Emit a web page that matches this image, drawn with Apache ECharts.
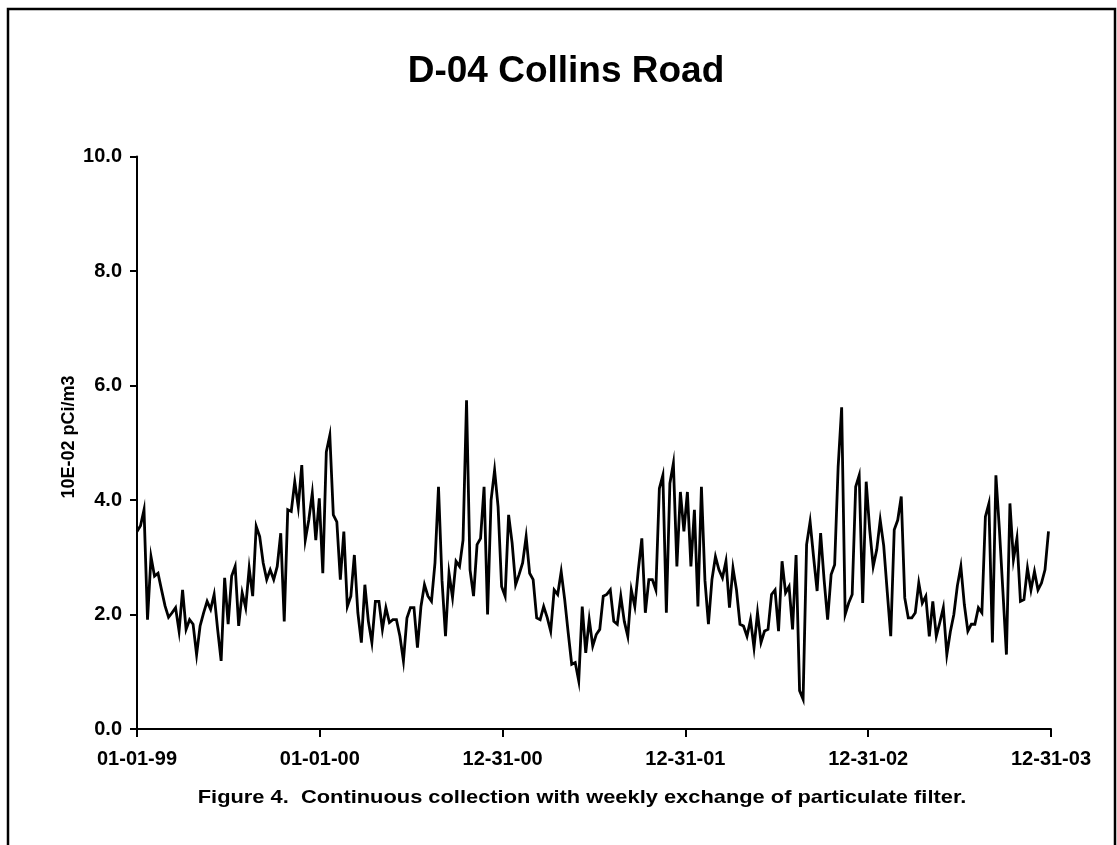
<!DOCTYPE html>
<html>
<head>
<meta charset="utf-8">
<title>D-04 Collins Road</title>
<script src="https://cdn.jsdelivr.net/npm/echarts@6/dist/echarts.min.js"></script>
<style>
  html, body { margin: 0; padding: 0; background: #ffffff; }
  #chart { width: 1117px; height: 845px; }
</style>
</head>
<body>
<div id="chart"></div>
<script>
// Weekly filter results, 10E-02 pCi/m3, one value per weekly exchange starting 01-01-99
const weeklyValues = [
  3.45, 3.55, 3.83, 1.91, 3.01, 2.67, 2.72, 2.43, 2.15, 1.95,
  2.03, 2.12, 1.71, 2.43, 1.74, 1.91, 1.83, 1.30, 1.80, 2.03,
  2.23, 2.09, 2.35, 1.74, 1.19, 2.64, 1.83, 2.67, 2.84, 1.80,
  2.38, 2.12, 2.81, 2.32, 3.54, 3.36, 2.90, 2.61, 2.78, 2.61,
  2.84, 3.42, 1.88, 3.83, 3.80, 4.32, 3.88, 4.61, 3.30, 3.65,
  4.12, 3.30, 4.03, 2.72, 4.84, 5.13, 3.74, 3.62, 2.61, 3.45,
  2.14, 2.32, 3.04, 2.03, 1.51, 2.52, 1.88, 1.51, 2.23, 2.23,
  1.74, 2.12, 1.86, 1.91, 1.91, 1.62, 1.19, 1.94, 2.12, 2.12,
  1.42, 2.14, 2.52, 2.32, 2.23, 2.90, 4.23, 2.60, 1.62, 2.72,
  2.30, 2.93, 2.84, 3.30, 5.74, 2.78, 2.32, 3.22, 3.33, 4.23,
  2.00, 4.00, 4.52, 3.88, 2.49, 2.32, 3.74, 3.25, 2.52, 2.70,
  2.90, 3.36, 2.72, 2.61, 1.94, 1.91, 2.14, 1.95, 1.71, 2.43,
  2.35, 2.75, 2.26, 1.68, 1.13, 1.16, 0.84, 2.14, 1.33, 1.91,
  1.45, 1.65, 1.74, 2.32, 2.35, 2.43, 1.88, 1.83, 2.32, 1.88,
  1.62, 2.43, 2.14, 2.78, 3.33, 2.03, 2.61, 2.61, 2.43, 4.20,
  4.43, 2.03, 4.29, 4.64, 2.84, 4.14, 3.45, 4.14, 2.84, 3.83,
  2.14, 4.23, 2.60, 1.83, 2.61, 3.01, 2.78, 2.64, 2.93, 2.12,
  2.81, 2.43, 1.83, 1.80, 1.62, 1.91, 1.42, 2.03, 1.51, 1.71,
  1.74, 2.35, 2.43, 1.71, 2.93, 2.38, 2.49, 1.74, 3.04, 0.67,
  0.52, 3.22, 3.62, 3.00, 2.41, 3.42, 2.60, 1.91, 2.70, 2.87,
  4.58, 5.62, 2.00, 2.20, 2.35, 4.23, 4.43, 2.20, 4.32, 3.48,
  2.84, 3.13, 3.65, 3.20, 2.40, 1.62, 3.48, 3.65, 4.06, 2.29,
  1.94, 1.94, 2.03, 2.55, 2.20, 2.32, 1.62, 2.23, 1.62, 1.86,
  2.12, 1.30, 1.70, 2.00, 2.50, 2.84, 2.17, 1.71, 1.83, 1.83,
  2.12, 2.03, 3.71, 3.94, 1.51, 4.43, 3.48, 2.40, 1.30, 3.94,
  2.96, 3.33, 2.23, 2.26, 2.81, 2.43, 2.75, 2.43, 2.55, 2.78,
  3.45
];

// Date axis labels, one per 365-day step
const dateTickLabels = ['01-01-99', '01-01-00', '12-31-00', '12-31-01', '12-31-02', '12-31-03'];

// Y axis range and step
const yTicks = [0, 2, 4, 6, 8, 10];

const DAYS_PER_SAMPLE = 7;
const DAYS_PER_TICK = 365;

const titleText = 'D-04 Collins Road';
const yAxisTitle = '10E-02 pCi/m3';
const captionText = 'Figure 4.  Continuous collection with weekly exchange of particulate filter.';

const seriesData = weeklyValues.map((v, i) => [i * DAYS_PER_SAMPLE, v]);

const FONT = '"Liberation Sans", Arial, Helvetica, sans-serif';
const INK = '#000000';

const chart = echarts.init(document.getElementById('chart'), null, { renderer: 'canvas' });

chart.setOption({
  backgroundColor: '#ffffff',
  animation: false,
  grid: { left: 137, right: 66, top: 156.5, bottom: 116, containLabel: false },
  xAxis: {
    type: 'value',
    min: 0,
    max: DAYS_PER_TICK * (dateTickLabels.length - 1),
    interval: DAYS_PER_TICK,
    axisLine: { show: true, lineStyle: { color: INK, width: 2 } },
    axisTick: { show: true, inside: false, length: 8, lineStyle: { color: INK, width: 2 } },
    splitLine: { show: false },
    axisLabel: {
      margin: 20,
      color: INK,
      fontFamily: FONT,
      fontWeight: 'bold',
      fontSize: 20,
      formatter: (v) => dateTickLabels[Math.round(v / DAYS_PER_TICK)] || ''
    }
  },
  yAxis: {
    type: 'value',
    min: yTicks[0],
    max: yTicks[yTicks.length - 1],
    interval: yTicks[1] - yTicks[0],
    axisLine: { show: true, lineStyle: { color: INK, width: 2 } },
    axisTick: { show: true, inside: false, length: 7, lineStyle: { color: INK, width: 2 } },
    splitLine: { show: false },
    axisLabel: {
      margin: 15,
      color: INK,
      fontFamily: FONT,
      fontWeight: 'bold',
      fontSize: 20,
      formatter: (v) => v.toFixed(1)
    }
  },
  series: [{
    type: 'line',
    data: seriesData,
    showSymbol: false,
    symbol: 'none',
    lineStyle: { color: INK, width: 2.8, join: 'miter' },
    z: 3
  }],
  graphic: [
    {
      // page frame
      type: 'polyline',
      shape: { points: [[8, 845], [8, 9], [1115, 9], [1115, 845]] },
      style: { stroke: INK, lineWidth: 2.5, fill: null },
      silent: true
    },
    {
      type: 'text',
      x: 566, y: 72,
      style: {
        text: titleText,
        fill: INK,
        font: 'bold 37px ' + FONT,
        textAlign: 'center',
        textVerticalAlign: 'middle'
      }
    },
    {
      // y axis title, reading bottom to top
      type: 'text',
      x: 69, y: 437,
      rotation: Math.PI / 2,
      style: {
        text: yAxisTitle,
        fill: INK,
        font: 'bold 18px ' + FONT,
        textAlign: 'center',
        textVerticalAlign: 'middle'
      }
    },
    {
      type: 'text',
      x: 582, y: 798,
      scaleX: 1.15,
      style: {
        text: captionText,
        fill: INK,
        font: 'bold 19px ' + FONT,
        textAlign: 'center',
        textVerticalAlign: 'middle'
      }
    }
  ]
});
</script>
</body>
</html>
